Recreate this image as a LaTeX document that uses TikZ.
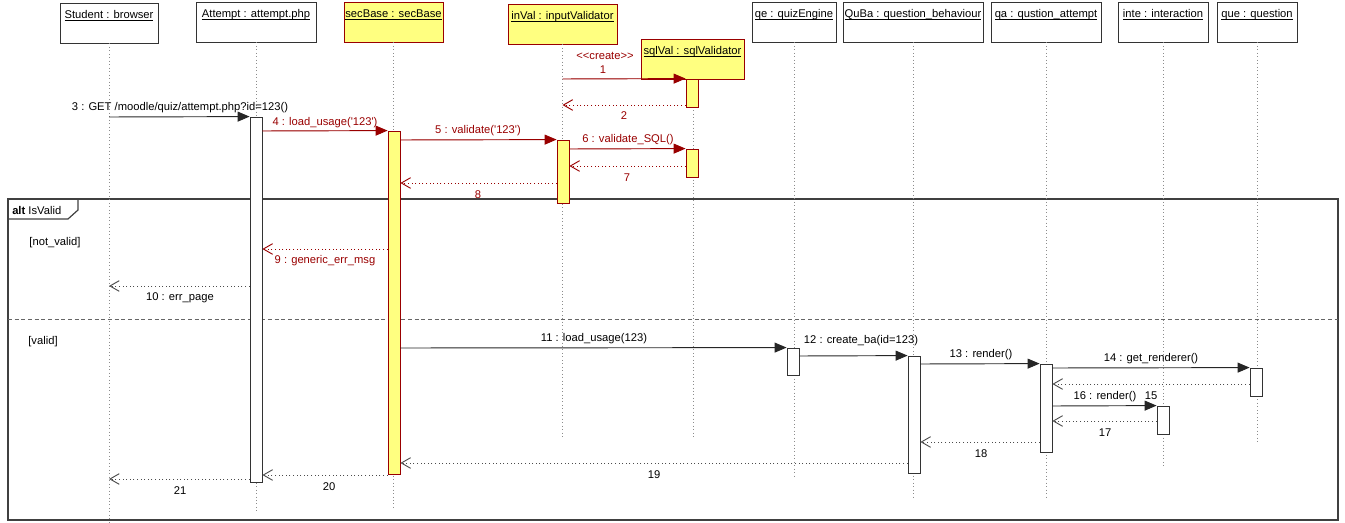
\documentclass[tikz,border=0pt]{standalone}
\usepackage{fontspec}
\setmainfont{Liberation Sans}[Ligatures=TeXOff]
\usetikzlibrary{arrows.meta,fit,positioning}

\definecolor{umlred}{RGB}{153,0,0}
\definecolor{umlyellow}{RGB}{255,255,128}
\newsavebox{\objnamebox}
\newcommand{\objname}[1]{\sbox{\objnamebox}{#1}\rlap{\vrule height -1.1pt depth 1.7pt width \wd\objnamebox}\usebox{\objnamebox}}

\tikzset{
  objbox/.style={draw=black!80, line width=0.6pt, fill=white, inner sep=0pt},
  secbox/.style={draw=umlred, line width=0.6pt, fill=umlyellow, inner sep=0pt},
  objlbl/.style={inner sep=0pt, anchor=base, font=\fontsize{8.4}{10}\selectfont},
  actbar/.style={draw=black!80, line width=0.6pt, fill=white, inner sep=0pt},
  secbar/.style={draw=umlred, line width=0.6pt, fill=umlyellow, inner sep=0pt},
  lifeline/.style={draw=black!45, dotted, line width=0.6pt},
  call/.style={draw=black!85, line width=0.7pt, -{Triangle[length=9pt,width=7.5pt]}},
  seccall/.style={call, draw=umlred, fill=umlred},
  reply/.style={draw=black!70, dotted, line width=0.7pt, -{Straight Barb[length=7pt,width=8pt]}},
  secreply/.style={reply, draw=umlred},
  msglbl/.style={inner sep=0pt, font=\fontsize{8.4}{10}\selectfont},
  seclbl/.style={msglbl, text=umlred}
}

\begin{document}
\begin{tikzpicture}[x=0.75pt,y=0.75pt,yscale=-1,xscale=1]
\useasboundingbox (0,0) rectangle (1345,523);

% alt frame
\draw[black!75, line width=0.9pt] (8,199) rectangle (1338,520);
\draw[black!75, line width=0.9pt] (8,219) -- (68,219) -- (78,210) -- (78,199);
\node[msglbl, anchor=west] (altlbl) at (12,211) {\textbf{alt} IsValid};
\draw[black!60, densely dashed, line width=0.7pt] (8,319) -- (1338,319);
\node[msglbl] (gnot) at (55,243) {[not\_valid]};
\node[msglbl] (gval) at (43,342) {[valid]};

% Object boxes
\node[objbox, fit={(60,3) (158,43)}] (stu) {};
\node[objbox, fit={(196,2) (316,42)}] (att) {};
\node[secbox, fit={(344,2) (443,42)}] (sec) {};
\node[secbox, fit={(508,4) (617,44)}] (inv) {};
\node[objbox, fit={(752,2) (836,42)}] (qe) {};
\node[objbox, fit={(843,2) (983,42)}] (quba) {};
\node[objbox, fit={(991,2) (1101,42)}] (qa) {};
\node[objbox, fit={(1118,2) (1208,42)}] (inte) {};
\node[objbox, fit={(1217,2) (1297,42)}] (que) {};

% Lifelines
\draw[lifeline] (stu.south) -- (stu.south |- 0,523);
\draw[lifeline] (att.south) -- (att.south |- 0,512);
\draw[lifeline] (sec.south) -- (sec.south |- 0,510);
\draw[lifeline] (inv.south) -- (inv.south |- 0,438);
\draw[lifeline] (693,79) -- (693,438);
\draw[lifeline] (qe.south) -- (qe.south |- 0,476);
\draw[lifeline] (quba.south) -- (quba.south |- 0,498);
\draw[lifeline] (qa.south) -- (qa.south |- 0,497);
\draw[lifeline] (inte.south) -- (inte.south |- 0,467);
\draw[lifeline] (que.south) -- (que.south |- 0,443);

% created object
\node[secbox, fit={(641,39) (744,79)}] (sql) {};

% Object names
\node[objlbl] at (stu.north |- 0,19) {\objname{Student : browser}};
\node[objlbl] at (att.north |- 0,18) {\objname{Attempt : attempt.php}};
\node[objlbl] at (sec.north |- 0,18) {\objname{secBase : secBase}};
\node[objlbl] at (inv.north |- 0,20) {\objname{inVal : inputValidator}};
\node[objlbl] at (sql.north |- 0,55) {\objname{sqlVal : sqlValidator}};
\node[objlbl] at (qe.north |- 0,18) {\objname{qe : quizEngine}};
\node[objlbl] at (quba.north |- 0,18) {\objname{QuBa : question\_behaviour}};
\node[objlbl] at (qa.north |- 0,18) {\objname{qa : qustion\_attempt}};
\node[objlbl] at (inte.north |- 0,18) {\objname{inte : interaction}};
\node[objlbl] at (que.north |- 0,18) {\objname{que : question}};

% Activation bars
\node[actbar, fit={(250,117) (262,482)}] (attA) {};
\node[secbar, fit={(388,131) (400,474)}] (secA) {};
\node[secbar, fit={(557,140) (569,203)}] (invA) {};
\node[secbar, fit={(686,79) (698,107)}] (sqlA1) {};
\node[secbar, fit={(686,149) (698,177)}] (sqlA2) {};
\node[actbar, fit={(787,348) (799,375)}] (qeA) {};
\node[actbar, fit={(908,356) (920,473)}] (qubaA) {};
\node[actbar, fit={(1040,364) (1052,452)}] (qaA) {};
\node[actbar, fit={(1250,368) (1262,396)}] (queA) {};
\node[actbar, fit={(1157,406) (1169,434)}] (inteA) {};

% Messages
\draw[seccall] (inv.south |- 0,79) -- (sqlA1.north west);
\draw[secreply] (sqlA1.west |- 0,105) -- (inv.south |- 0,105);
\draw[call] (stu.south |- 0,117) -- (attA.north west);
\draw[seccall] (attA.east |- 0,131) -- (secA.north west);
\draw[seccall] (secA.east |- 0,140) -- (invA.north west);
\draw[seccall] (invA.east |- 0,149) -- (sqlA2.north west);
\draw[secreply] (sqlA2.west |- 0,166) -- (invA.east |- 0,166);
\draw[secreply] (invA.west |- 0,183) -- (secA.east |- 0,183);
\draw[secreply] (secA.west |- 0,249) -- (attA.east |- 0,249);
\draw[reply] (attA.west |- 0,286) -- (stu.south |- 0,286);
\draw[call] (secA.east |- 0,348) -- (qeA.north west);
\draw[call] (qeA.east |- 0,356) -- (qubaA.north west);
\draw[call] (qubaA.east |- 0,364) -- (qaA.north west);
\draw[call] (qaA.east |- 0,368) -- (queA.north west);
\draw[reply] (queA.west |- 0,384) -- (qaA.east |- 0,384);
\draw[call] (qaA.east |- 0,406) -- (inteA.north west);
\draw[reply] (inteA.west |- 0,421) -- (qaA.east |- 0,421);
\draw[reply] (qaA.west |- 0,442) -- (qubaA.east |- 0,442);
\draw[reply] (qubaA.west |- 0,463) -- (secA.east |- 0,463);
\draw[reply] (secA.west |- 0,475) -- (attA.east |- 0,475);
\draw[reply] (attA.west |- 0,479) -- (stu.south |- 0,479);

% Message labels
\node[seclbl] (m0) at (605,56) {<\kern0pt<create>\kern0pt>};
\node[seclbl] (m1) at (603,70) {1};
\node[seclbl] (m2) at (624,116) {2};
\node[msglbl] (m3) at (180,108) {3 : GET /moodle/quiz/attempt.php?id=123()};
\node[seclbl] (m4) at (325,123) {4 : load\_usage('123')};
\node[seclbl] (m5) at (478,131) {5 : validate('123')};
\node[seclbl] (m6) at (628,140) {6 : validate\_SQL()};
\node[seclbl] (m7) at (627,178) {7};
\node[seclbl] (m8) at (478,195) {8};
\node[seclbl] (m9) at (325,261) {9 : generic\_err\_msg};
\node[msglbl] (m10) at (180,298) {10 : err\_page};
\node[msglbl] (m11) at (594,339) {11 : load\_usage(123)};
\node[msglbl] (m12) at (861,341) {12 : create\_ba(id=123)};
\node[msglbl] (m13) at (981,355) {13 : render()};
\node[msglbl] (m14) at (1151,359) {14 : get\_renderer()};
\node[msglbl] (m15) at (1151,396) {15};
\node[msglbl] (m16) at (1105,397) {16 : render()};
\node[msglbl] (m17) at (1105,433) {17};
\node[msglbl] (m18) at (981,454) {18};
\node[msglbl] (m19) at (654,475) {19};
\node[msglbl] (m20) at (329,487) {20};
\node[msglbl] (m21) at (180,491) {21};

\end{tikzpicture}
\end{document}
